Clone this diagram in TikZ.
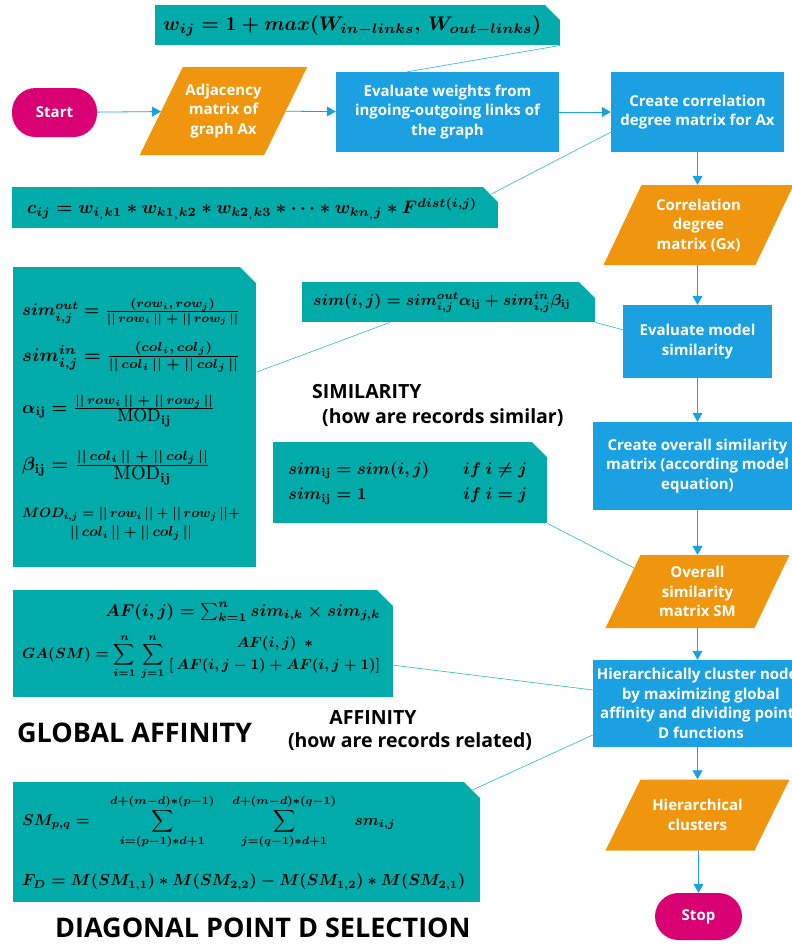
\documentclass[tikz,border=0pt]{standalone}
\usepackage{amsmath}
\usepackage{graphicx}
\usepackage[no-math]{fontspec}
\setmainfont{Open Sans}
\usetikzlibrary{arrows.meta,calc}
\definecolor{startc}{HTML}{D80073}
\definecolor{orangec}{HTML}{F0960E}
\definecolor{bluec}{HTML}{1BA1E2}
\definecolor{tealc}{HTML}{00ABA9}
\definecolor{calloutc}{HTML}{3EC4C0}
\definecolor{foldc}{HTML}{A6E3E1}
\newcommand\flowfont{\bfseries\fontsize{15}{19.5}\selectfont}
\newcommand\labfont{\bfseries\fontsize{19.5}{22}\selectfont}
\newcommand\bigfont{\bfseries\fontsize{27}{31}\selectfont}
\newcommand\regMOD{\mbox{\unboldmath$\mathrm{MOD}_{\boldsymbol{\mathrm{ij}}}$}}
% parallelogram: name, cx, cy, mid width, height, slant, text
\newcommand\paranode[7]{%
  \fill[orangec] ({#2-#4/2+#6/2},{#3-#5/2}) -- ({#2+#4/2+#6/2},{#3-#5/2})
     -- ({#2+#4/2-#6/2},{#3+#5/2}) -- ({#2-#4/2-#6/2},{#3+#5/2}) -- cycle;
  \node[flow, minimum width=#4, minimum height=#5] (#1) at (#2,#3) {#7};}
\newcommand\foldcorner[2]{%
  \fill[white] (#1.north east) -- ++(-#2,0) -- ++(#2,#2) -- cycle;
  \draw[foldline] ($(#1.north east)+(-#2,0)$) -- ++(#2,#2);}
% formula: name, anchor, position, width, math
\newcommand\fml[5]{\node[anchor=#2, inner sep=0pt] (#1) at (#3) {\resizebox{#4}{!}{\boldmath$#5$}};}
\begin{document}
\begin{tikzpicture}[x=1pt,y=-1pt,
  flow/.style={font=\flowfont, text=white, align=center, inner sep=0pt},
  bluebox/.style={flow, fill=bluec},
  pill/.style={flow, fill=startc, rounded corners=23.5pt, font=\bfseries\fontsize{15}{18}\selectfont},
  tealbox/.style={fill=tealc, inner sep=0pt, anchor=north west},
  foldline/.style={draw=foldc, line width=0.6pt},
  arr/.style={draw=bluec, line width=0.8pt, -{Triangle[length=9pt,width=10pt]}},
  callout/.style={draw=calloutc, line width=0.7pt},
  lab/.style={font=\labfont, text=black, inner sep=0pt},
  biglab/.style={font=\bigfont, text=black, inner sep=0pt, anchor=west}]
\useasboundingbox (0,0) rectangle (792,945);
\clip (0,0) rectangle (792,945);

% ---------- flow chart ----------
\node[pill, minimum width=85, minimum height=49] (start) at (54.5,112.5) {Start};
\paranode{adj}{223.5}{111}{124.5}{88}{43}{Adjacency\\matrix of\\graph Ax}
\node[bluebox, minimum width=223, minimum height=80] (evalw) at (447.5,112) {Evaluate weights from\\ingoing-outgoing links of\\the graph};
\node[bluebox, minimum width=173, minimum height=80] (corr) at (697.5,112) {Create correlation\\degree matrix for Ax};
\paranode{cdm}{698.5}{225}{152}{80}{38}{Correlation\\degree\\matrix (Gx)}
\node[bluebox, minimum width=149, minimum height=73] (evalm) at (697.5,341.5) {Evaluate model\\similarity};
\node[bluebox, minimum width=209, minimum height=88] (overall) at (697.5,466) {Create overall similarity\\matrix (according model\\equation)};
\paranode{osm}{697.5}{591.5}{149}{73}{35}{Overall\\similarity\\matrix SM}
\node[bluebox, minimum width=216, minimum height=87] (hier) at (701,703.5) {Hierarchically cluster nodes\\by maximizing global\\affinity and dividing points\\D functions};
\paranode{hc}{697.5}{815}{149}{71}{35}{Hierarchical\\clusters}
\node[pill, minimum width=87, minimum height=47] (stop) at (698.5,916.5) {Stop};

\draw[arr] (start) -- (adj);
\draw[arr] (adj) -- (evalw);
\draw[arr] (evalw) -- (corr);
\draw[arr] (corr.south) -- (corr.south |- cdm.north);
\draw[arr] (cdm.south -| evalm.north) -- (evalm.north);
\draw[arr] (evalm) -- (overall);
\draw[arr] (overall.south) -- (overall.south |- osm.north);
\draw[arr] (osm.south) -- (osm.south |- hier.north);
\draw[arr] (osm.south |- hier.south) -- (hc.north);
\draw[arr] (hc.south -| stop.north) -- (stop.north);

% ---------- formula boxes ----------
\node[tealbox, minimum width=405, minimum height=40] (wbox) at (155,5) {};
\foldcorner{wbox}{15}
\node[tealbox, minimum width=486, minimum height=41] (cbox) at (12,187) {};
\foldcorner{cbox}{15}
\node[tealbox, minimum width=243, minimum height=300] (simbig) at (13,267) {};
\foldcorner{simbig}{16}
\node[tealbox, minimum width=293, minimum height=40] (simij) at (302,282) {};
\foldcorner{simij}{16}
\node[tealbox, minimum width=274, minimum height=81] (cases) at (273,442) {};
\foldcorner{cases}{15}
\node[tealbox, minimum width=380, minimum height=107] (afbox) at (13,590) {};
\foldcorner{afbox}{16}
\node[tealbox, minimum width=467, minimum height=120] (smbox) at (13,782) {};
\foldcorner{smbox}{16}

% formulas
\fml{wf}{west}{163,26}{378pt}{w_{ij} = 1 + max(W_{in-links},\, W_{out-links})}
\fml{cf}{west}{27,209}{450pt}{c_{ij} = w_{i_{,}k1} * w_{k1_{,}k2} * w_{k2_{,}k3} * \cdots * w_{kn_{,}j} * F^{dist(i,j)}}
\fml{s1}{west}{22,312}{218pt}{sim^{out}_{i,j} = \frac{(row_i,\, row_j)}{||\, row_i\, || \;+\; ||\, row_j\, ||}}
\fml{s2}{west}{22,357}{218pt}{sim^{in}_{i,j} = \frac{(col_i,\, col_j)}{||\, col_i\, || \;+\; ||\, col_j\, ||}}
\fml{s3}{west}{22,411}{193pt}{\alpha_{\mathrm{ij}} = \frac{||\, row_i\, || \;+\; ||\, row_j\, ||}{\textstyle\regMOD}}
\fml{s4}{west}{22,468}{188pt}{\beta_{\mathrm{ij}} = \frac{||\, col_i\, || \;+\; ||\, col_j\, ||}{\textstyle\regMOD}}
\fml{s5}{west}{22,514}{218pt}{MOD_{i,j} = ||\, row_i\, || + ||\, row_j\, || +}
\fml{s6}{center}{131,533}{122pt}{||\, col_i\, || + ||\, col_j\, ||}
\fml{sf}{west}{313,302}{257pt}{sim(i,j) = sim^{out}_{i,j}\alpha_{\mathrm{ij}} + sim^{in}_{i,j}\beta_{\mathrm{ij}}}
\fml{cs}{west}{288,483}{239pt}{\begin{array}{@{}l@{\qquad}l@{}} sim_{\mathrm{ij}} = sim(i,j) & if\ i \neq j\\[3pt] sim_{\mathrm{ij}} = 1 & if\ i = j\end{array}}
\fml{af1}{west}{105,612}{275pt}{AF(i,j) = \textstyle\sum_{k=1}^{n} sim_{i,k} \times sim_{j,k}}
\fml{af2}{west}{22,657}{360pt}{GA(SM) = \displaystyle\sum_{i=1}^{n}\,\sum_{j=1}^{n} \genfrac{}{}{0pt}{0}{AF(i,j)\ \ *}{[\,AF(i,j-1) + AF(i,j+1)]}}
\fml{sm1}{west}{22,822}{373pt}{SM_{p,q} = \quad \displaystyle\sum_{i=(p-1)*d+1}^{d+(m-d)*(p-1)} \;\;\; \sum_{j=(q-1)*d+1}^{d+(m-d)*(q-1)} \quad sm_{i,j}}
\fml{sm2}{west}{22,882}{443pt}{F_D = M(SM_{1,1}) * M(SM_{2,2}) - M(SM_{1,2}) * M(SM_{2,1})}

% callouts
\coordinate (osmin) at (634,568);
\draw[callout] (wbox.south east) -- ($(evalw.north west)!0.32!(evalw.north east)$);
\draw[callout] ($(cbox.north east)+(-7,7)$) -- ($(corr.north west)!0.75!(corr.south west)$);
\draw[callout] ($(simbig.north east)!0.35!(simbig.south east)$) -- ($(simij.south west)!0.3!(simij.south east)$);
\draw[callout] (simij.south east) -- ($(evalm.north west)!0.34!(evalm.south west)$);
\draw[callout] (cases.south east) -- (osmin);
\draw[callout] ($(afbox.north east)!0.70!(afbox.south east)$) -- ($(hier.north west)!0.345!(hier.south west)$);
\draw[callout] ($(smbox.north east)+(-8,8)$) -- ($(hier.north west)!0.86!(hier.south west)$);

% labels
\node[lab, anchor=west] (simlab) at (312,392) {SIMILARITY};
\node[lab, anchor=west] (simsub) at (322,418) {(how are records similar)};
\node[lab] (aflab) at (373,718) {AFFINITY};
\node[lab] (afsub) at (410,742) {(how are records related)};
\node[biglab] (galab) at (17,733) {GLOBAL AFFINITY};
\node[biglab] (dglab) at (55,928) {DIAGONAL POINT D SELECTION};
\end{tikzpicture}
\end{document}
